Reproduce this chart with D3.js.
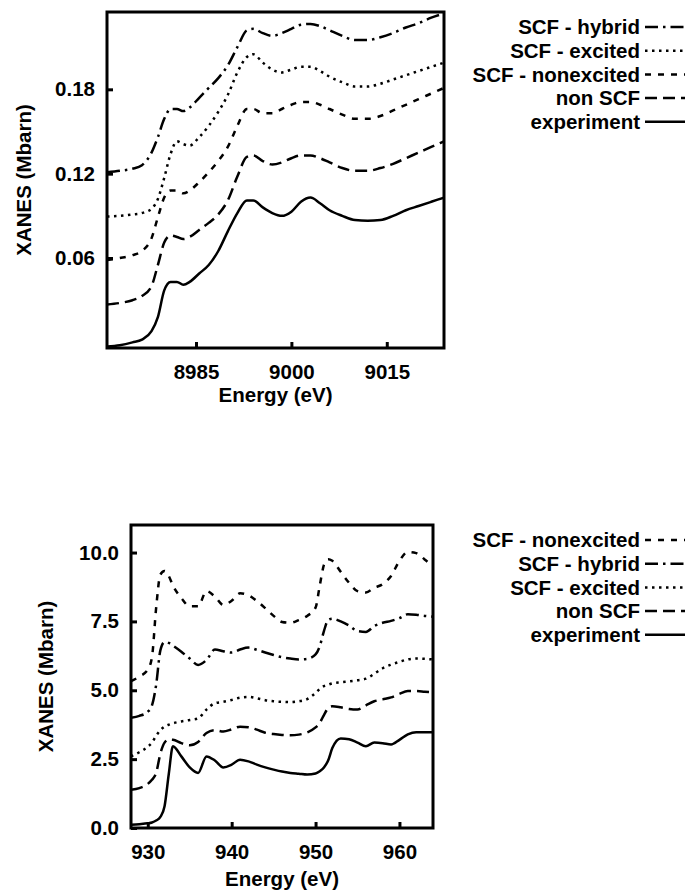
<!DOCTYPE html>
<html>
<head>
<meta charset="utf-8">
<script src="https://cdn.jsdelivr.net/npm/d3@7"></script>
<style>
  html, body { margin: 0; padding: 0; background: #fff; }
  svg { display: block; }
  text { font-family: "Liberation Sans", Arial, sans-serif; font-weight: bold; fill: #000; }
</style>
</head>
<body>
<svg id="chart" width="686" height="891"></svg>
<script>
// ---------------- DATA: top panel (K edge) ----------------
const topEnergy = [8971, 8973, 8975, 8976.5, 8978, 8979, 8980, 8981, 8982, 8983, 8984, 8985.5, 8987, 8988.5, 8990, 8991.5, 8993, 8994, 8995.5, 8997, 8998.5, 9000, 9001.5, 9003, 9004.5, 9006, 9008, 9010, 9012, 9014, 9016, 9018, 9020, 9022, 9024];
const topExperiment = [-0.003, -0.002, 0.000, 0.002, 0.008, 0.018, 0.037, 0.043, 0.043, 0.041, 0.043, 0.049, 0.055, 0.065, 0.079, 0.092, 0.101, 0.101, 0.096, 0.092, 0.090, 0.093, 0.100, 0.103, 0.099, 0.094, 0.090, 0.087, 0.0865, 0.087, 0.090, 0.094, 0.097, 0.100, 0.103];
const topNonSCF = [0.027, 0.028, 0.030, 0.033, 0.040, 0.055, 0.071, 0.076, 0.075, 0.0735, 0.075, 0.080, 0.085, 0.091, 0.101, 0.118, 0.132, 0.133, 0.129, 0.1265, 0.128, 0.131, 0.133, 0.133, 0.131, 0.128, 0.124, 0.122, 0.122, 0.124, 0.127, 0.131, 0.135, 0.139, 0.143];
const topNonexcited = [0.0585, 0.060, 0.062, 0.065, 0.074, 0.089, 0.103, 0.108, 0.108, 0.106, 0.108, 0.114, 0.121, 0.129, 0.139, 0.154, 0.166, 0.166, 0.163, 0.163, 0.166, 0.169, 0.171, 0.171, 0.169, 0.166, 0.162, 0.159, 0.159, 0.161, 0.165, 0.169, 0.173, 0.177, 0.181];
const topExcited = [0.0895, 0.090, 0.091, 0.092, 0.095, 0.102, 0.117, 0.134, 0.143, 0.141, 0.140, 0.146, 0.154, 0.164, 0.176, 0.192, 0.203, 0.205, 0.199, 0.194, 0.192, 0.194, 0.196, 0.196, 0.193, 0.189, 0.185, 0.182, 0.182, 0.184, 0.187, 0.190, 0.193, 0.196, 0.199];
const topHybrid = [0.121, 0.122, 0.1235, 0.126, 0.135, 0.146, 0.159, 0.166, 0.166, 0.1645, 0.167, 0.174, 0.181, 0.188, 0.197, 0.210, 0.222, 0.223, 0.220, 0.218, 0.220, 0.223, 0.226, 0.2265, 0.225, 0.222, 0.218, 0.215, 0.215, 0.217, 0.220, 0.224, 0.227, 0.231, 0.234];
const topXTicks = [8985, 9000, 9015];
const topYTicks = [0.06, 0.12, 0.18];
const topLegend = ["SCF - hybrid", "SCF - excited", "SCF - nonexcited", "non SCF", "experiment"];

// ---------------- DATA: bottom panel (L edge) ----------------
const botEnergy = [928, 929, 930, 930.5, 931, 931.5, 932, 932.5, 933, 934, 935, 936, 937, 938, 939, 940, 941, 942, 943, 944, 945, 946, 947, 948, 949, 950, 950.5, 951, 951.5, 952, 953, 954, 955, 956, 957, 958, 959, 960, 961, 962, 963, 964];
const botExperiment = [0.12, 0.14, 0.17, 0.20, 0.27, 0.40, 0.79, 1.95, 2.97, 2.60, 2.20, 2.00, 2.60, 2.45, 2.20, 2.30, 2.48, 2.42, 2.30, 2.20, 2.12, 2.05, 2.00, 1.97, 1.94, 1.98, 2.06, 2.20, 2.45, 2.90, 3.25, 3.22, 3.10, 2.97, 3.10, 3.08, 3.03, 3.20, 3.40, 3.48, 3.48, 3.48];
const botNonSCF = [1.39, 1.45, 1.60, 1.75, 2.00, 2.70, 3.10, 3.21, 3.20, 3.08, 3.00, 3.12, 3.45, 3.55, 3.50, 3.58, 3.68, 3.66, 3.57, 3.46, 3.41, 3.38, 3.37, 3.39, 3.47, 3.65, 3.82, 4.10, 4.35, 4.42, 4.38, 4.32, 4.30, 4.45, 4.60, 4.67, 4.74, 4.87, 4.97, 4.97, 4.95, 4.93];
const botExcited = [2.60, 2.75, 2.95, 3.10, 3.35, 3.55, 3.68, 3.75, 3.80, 3.87, 3.92, 3.98, 4.30, 4.53, 4.58, 4.65, 4.73, 4.76, 4.71, 4.64, 4.60, 4.58, 4.57, 4.60, 4.68, 4.90, 5.05, 5.15, 5.20, 5.25, 5.29, 5.32, 5.36, 5.42, 5.60, 5.80, 5.93, 6.03, 6.12, 6.15, 6.14, 6.12];
const botHybrid = [4.00, 4.07, 4.22, 4.45, 5.20, 6.45, 6.75, 6.72, 6.62, 6.40, 6.15, 5.92, 6.10, 6.48, 6.42, 6.37, 6.48, 6.55, 6.47, 6.37, 6.28, 6.20, 6.15, 6.12, 6.14, 6.30, 6.60, 7.15, 7.55, 7.60, 7.50, 7.35, 7.15, 7.12, 7.33, 7.45, 7.52, 7.62, 7.76, 7.74, 7.70, 7.67];
const botNonexcited = [5.33, 5.50, 5.75, 6.20, 8.00, 9.20, 9.33, 9.15, 8.80, 8.35, 8.05, 8.05, 8.60, 8.40, 8.10, 8.25, 8.52, 8.45, 8.24, 7.98, 7.70, 7.48, 7.45, 7.55, 7.70, 8.00, 8.80, 9.55, 9.76, 9.70, 9.30, 8.90, 8.60, 8.55, 8.72, 8.85, 9.15, 9.70, 10.02, 9.98, 9.75, 9.50];
const botXTicks = [930, 940, 950, 960];
const botYTicks = [0.0, 2.5, 5.0, 7.5, 10.0];
const botLegend = ["SCF - nonexcited", "SCF - hybrid", "SCF - excited", "non SCF", "experiment"];

// ---------------- styles ----------------
const dashStyles = {
  "experiment": null,
  "non SCF": "12,6",
  "SCF - nonexcited": "6,7",
  "SCF - excited": "2.5,4.5",
  "SCF - hybrid": "13,5,2.5,5"
};

const svg = d3.select("#chart");

function panel(cfg) {
  const g = svg.append("g");
  const x = d3.scaleLinear().domain(cfg.xDomain).range([cfg.left, cfg.right]);
  const y = d3.scaleLinear().domain(cfg.yDomain).range([cfg.bottom, cfg.top]);

  const clipId = "clip" + cfg.id;
  svg.append("clipPath").attr("id", clipId).append("rect")
    .attr("x", cfg.left).attr("y", cfg.top)
    .attr("width", cfg.right - cfg.left).attr("height", cfg.bottom - cfg.top);

  const line = d3.line().curve(d3.curveMonotoneX)
    .x(d => x(d[0])).y(d => y(d[1]));

  cfg.series.forEach(s => {
    const pts = cfg.energy.map((e, i) => [e, s.values[i]]);
    g.append("path")
      .attr("clip-path", `url(#${clipId})`)
      .attr("d", line(pts))
      .attr("fill", "none")
      .attr("stroke", "#000")
      .attr("stroke-width", 2.5)
      .attr("stroke-dasharray", dashStyles[s.name]);
  });

  // axes (inward ticks)
  const xAxis = d3.axisBottom(x).tickValues(cfg.xTicks).tickSize(-6).tickPadding(16)
    .tickFormat(d3.format("d"));
  const yAxis = d3.axisLeft(y).tickValues(cfg.yTicks).tickSize(-6).tickPadding(12)
    .tickFormat(d3.format(cfg.yFormat));

  const gx = g.append("g").attr("transform", `translate(0,${cfg.bottom})`).call(xAxis);
  const gy = g.append("g").attr("transform", `translate(${cfg.left},0)`).call(yAxis);
  [gx, gy].forEach(a => {
    a.select(".domain").remove();
    a.selectAll(".tick line").attr("stroke", "#000").attr("stroke-width", 3);
    a.selectAll(".tick text").style("font-size", "20.5px").style("font-family", "Liberation Sans, Arial, sans-serif").style("font-weight", "bold").attr("fill", "#000");
  });

  // frame
  g.append("rect")
    .attr("x", cfg.left).attr("y", cfg.top)
    .attr("width", cfg.right - cfg.left).attr("height", cfg.bottom - cfg.top)
    .attr("fill", "none").attr("stroke", "#000").attr("stroke-width", 3);

  // axis titles
  g.append("text")
    .attr("x", (cfg.left + cfg.right) / 2).attr("y", cfg.xTitleY)
    .attr("text-anchor", "middle").style("font-size", "20.5px")
    .text("Energy (eV)");
  g.append("text")
    .attr("transform", `translate(${cfg.yTitleX},${(cfg.top + cfg.bottom) / 2}) rotate(-90)`)
    .attr("text-anchor", "middle").attr("dy", "0.35em").style("font-size", "20.5px")
    .text("XANES (Mbarn)");

  // legend
  const lg = g.append("g");
  cfg.legend.forEach((name, i) => {
    const yy = cfg.legendTop + i * 23.7;
    lg.append("text").attr("x", 640).attr("y", yy).attr("dy", "0.35em")
      .attr("text-anchor", "end").style("font-size", "20.5px").text(name);
    lg.append("line").attr("x1", 645).attr("x2", 685).attr("y1", yy).attr("y2", yy)
      .attr("stroke", "#000").attr("stroke-width", 2.5)
      .attr("stroke-dasharray", dashStyles[name]);
  });
}

panel({
  id: "top",
  left: 107, right: 444, top: 12, bottom: 348,
  xDomain: [8971, 9024], yDomain: [-0.004, 0.235],
  energy: topEnergy,
  series: [
    { name: "experiment", values: topExperiment },
    { name: "non SCF", values: topNonSCF },
    { name: "SCF - nonexcited", values: topNonexcited },
    { name: "SCF - excited", values: topExcited },
    { name: "SCF - hybrid", values: topHybrid }
  ],
  xTicks: topXTicks, yTicks: topYTicks, yFormat: ".2f",
  xTitleY: 402, yTitleX: 24,
  legend: topLegend, legendTop: 27
});

panel({
  id: "bot",
  left: 131, right: 433, top: 525, bottom: 828,
  xDomain: [928, 964], yDomain: [0, 11],
  energy: botEnergy,
  series: [
    { name: "experiment", values: botExperiment },
    { name: "non SCF", values: botNonSCF },
    { name: "SCF - excited", values: botExcited },
    { name: "SCF - hybrid", values: botHybrid },
    { name: "SCF - nonexcited", values: botNonexcited }
  ],
  xTicks: botXTicks, yTicks: botYTicks, yFormat: ".1f",
  xTitleY: 886, yTitleX: 46,
  legend: botLegend, legendTop: 540
});
</script>
</body>
</html>
